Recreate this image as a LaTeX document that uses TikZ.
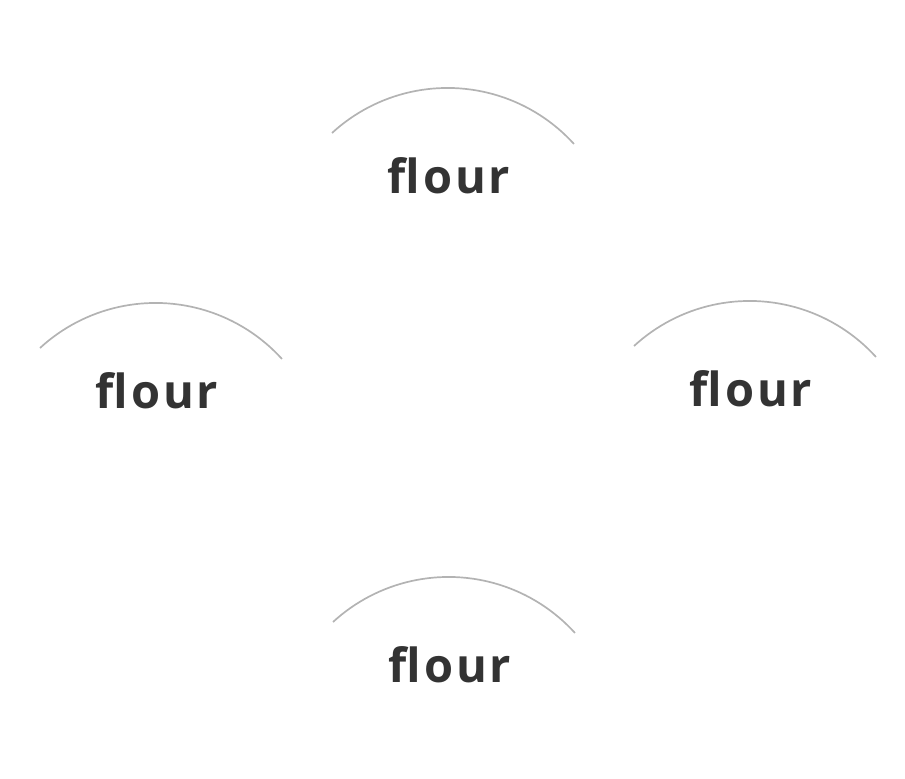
\documentclass[tikz,border=0pt]{standalone}
\usepackage{fontspec}
\setmainfont{Open Sans}[LetterSpace=6]
\usepackage{tikz}
\definecolor{wordgray}{HTML}{333333}
\definecolor{arcgray}{HTML}{B3B3B3}

\begin{document}
\begin{tikzpicture}
  [
    x = 1pt, y = -1pt,
    word/.style = {anchor=base,text=wordgray,font=\fontsize{47}{56}\selectfont\bfseries,inner sep=0},
    bow/.style = {draw=arcgray,line width=1.7pt},
  ]

  \useasboundingbox (0,0) rectangle (905,779);

  \node[word] (flourtop)    at (449,193) {flour};
  \node[word] (flourleft)   at (157,408) {flour};
  \node[word] (flourright)  at (751,406) {flour};
  \node[word] (flourbottom) at (450,682) {flour};

  \foreach \w in {flourtop,flourleft,flourright,flourbottom}
    \draw[bow] ([shift={(-117,-60)}]\w.base) arc[start angle=-132.6,end angle=-42.2,radius=170.7];

\end{tikzpicture}
\end{document}
